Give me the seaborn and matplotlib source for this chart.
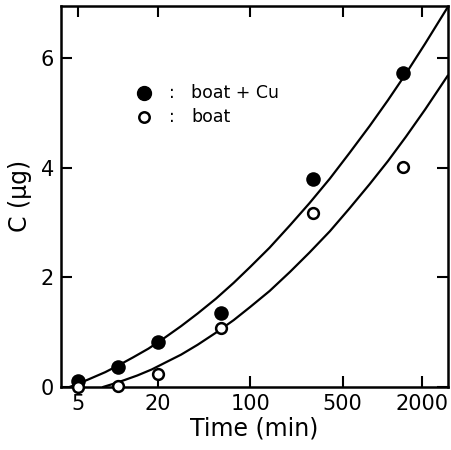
# C vs time, boat and boat + Cu

import pandas as pd
import matplotlib
matplotlib.use("Agg")
import matplotlib.pyplot as plt
import seaborn as sns

# measured points
times = [5, 10, 20, 60, 300, 1440]
c_boat_cu = [0.11, 0.36, 0.82, 1.35, 3.80, 5.73]
c_boat = [0.0, 0.02, 0.24, 1.08, 3.18, 4.01]

# fitted curves
fit_cu_t = [4.3, 5, 6, 8, 10, 13, 17, 22, 30, 40, 55, 75, 100, 140, 200,
            280, 400, 560, 800, 1100, 1500, 2100, 3120]
fit_cu_c = [0.00, 0.06, 0.14, 0.27, 0.39, 0.54, 0.70, 0.88, 1.11, 1.34, 1.61,
            1.90, 2.19, 2.54, 2.95, 3.35, 3.80, 4.26, 4.76, 5.23, 5.71, 6.26, 6.93]
fit_b_t = [7.7, 9, 11, 14, 18, 23, 30, 40, 55, 75, 100, 140, 200, 280, 400,
           560, 800, 1100, 1500, 2100, 3120]
fit_b_c = [0.00, 0.05, 0.12, 0.21, 0.32, 0.45, 0.59, 0.77, 0.99, 1.22, 1.46,
           1.75, 2.10, 2.45, 2.84, 3.25, 3.70, 4.12, 4.56, 5.06, 5.68]

x_ticks = [5, 20, 100, 500, 2000]
y_ticks = [0, 2, 4, 6]

sns.set_style("ticks", {"axes.edgecolor": "black", "text.color": "black",
                        "xtick.color": "black", "ytick.color": "black",
                        "axes.labelcolor": "black"})
plt.rcParams["font.family"] = ["DejaVu Sans"]

fig = plt.figure(figsize=(4.51, 4.5), dpi=100)
ax = fig.add_axes([0.135, 0.14, 0.858, 0.847])

fits = pd.DataFrame({
    "t": fit_cu_t + fit_b_t,
    "C": fit_cu_c + fit_b_c,
    "set": ["cu"] * len(fit_cu_t) + ["b"] * len(fit_b_t),
})
sns.lineplot(data=fits, x="t", y="C", units="set", estimator=None, sort=False,
             color="black", lw=1.6, ax=ax)

sns.scatterplot(x=times, y=c_boat_cu, marker="o", s=110, color="black",
                edgecolor="black", linewidth=0, ax=ax, zorder=3, clip_on=False)
sns.scatterplot(x=times, y=c_boat, marker="o", s=60, facecolor="white",
                edgecolor="black", linewidth=1.8, ax=ax, zorder=3, clip_on=False)

ax.set_xscale("log")
ax.set_xlim(3.7, 3120)
ax.set_ylim(0, 6.95)
ax.set_xticks(x_ticks)
ax.set_xticklabels([str(v) for v in x_ticks])
ax.xaxis.set_minor_locator(matplotlib.ticker.NullLocator())
ax.set_yticks(y_ticks)

ax.tick_params(direction="in", length=8, width=1.5, top=True, right=True,
               labelsize=15, pad=5)
for s in ax.spines.values():
    s.set_linewidth(1.8)

ax.set_xlabel("Time (min)", fontsize=17, labelpad=2)
ax.set_ylabel("C (μg)", fontsize=17, labelpad=6)

# legend
ax.plot([0.214], [0.772], "o", ms=10, color="black", transform=ax.transAxes)
ax.plot([0.214], [0.709], "o", ms=7.5, mfc="white", mec="black", mew=1.8,
        transform=ax.transAxes)
ax.text(0.287, 0.772, ":", fontsize=12, va="center", ha="center", transform=ax.transAxes)
ax.text(0.287, 0.709, ":", fontsize=12, va="center", ha="center", transform=ax.transAxes)
ax.text(0.336, 0.772, "boat + Cu", fontsize=12.5, va="center", transform=ax.transAxes)
ax.text(0.336, 0.709, "boat", fontsize=12.5, va="center", transform=ax.transAxes)

fig.savefig("out.png", dpi=100)
